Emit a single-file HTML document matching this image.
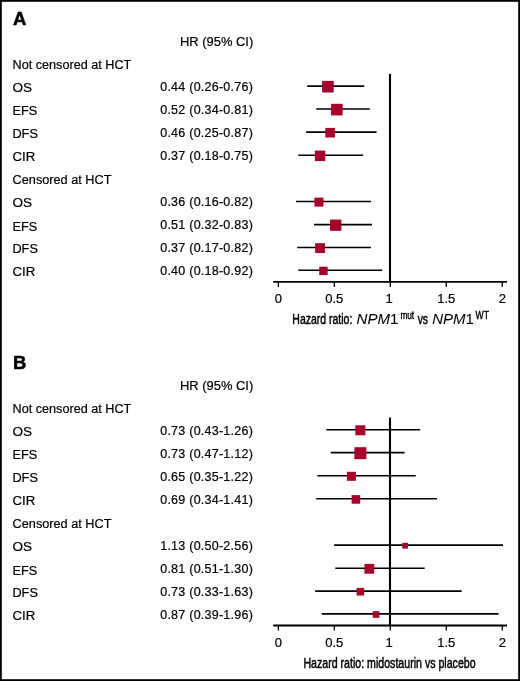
<!DOCTYPE html>
<html><head><meta charset="utf-8"><style>
html,body{margin:0;padding:0;background:#fff;}
svg{display:block;will-change:transform;}
</style></head><body>
<svg width="520" height="681" viewBox="0 0 520 681" font-family='"Liberation Sans", sans-serif' font-size="12.5" fill="#000" stroke="#000" stroke-width="0.2">
<rect x="0" y="0" width="520" height="681" fill="#fff" stroke="none"/>
<text x="12.9" y="25.0" font-size="18.5" font-weight="bold" stroke="#000" stroke-width="0.5">A</text>
<text x="180" y="46.25" textLength="73.2" lengthAdjust="spacingAndGlyphs">HR (95% CI)</text>
<text x="12.5" y="68.8" textLength="118.8" lengthAdjust="spacingAndGlyphs">Not censored at HCT</text>
<text x="12.6" y="184.1" textLength="98.8" lengthAdjust="spacingAndGlyphs">Censored at HCT</text>
<text x="12.4" y="92.00" textLength="19.6" lengthAdjust="spacingAndGlyphs">OS</text>
<text x="160.2" y="90.60" textLength="92.6" lengthAdjust="spacing">0.44 (0.26-0.76)</text>
<line x1="307.26" y1="86.10" x2="364.23" y2="86.10" stroke="#000" stroke-width="1.6"/>
<rect x="322.11" y="80.90" width="11.6" height="11.6" fill="#a6002f" stroke="none"/>
<text x="12.4" y="114.90" textLength="24.8" lengthAdjust="spacingAndGlyphs">EFS</text>
<text x="160.2" y="113.50" textLength="92.6" lengthAdjust="spacing">0.52 (0.34-0.81)</text>
<line x1="316.21" y1="109.00" x2="369.83" y2="109.00" stroke="#000" stroke-width="1.6"/>
<rect x="331.06" y="103.80" width="11.6" height="11.6" fill="#a6002f" stroke="none"/>
<text x="12.4" y="138.00" textLength="25.5" lengthAdjust="spacingAndGlyphs">DFS</text>
<text x="160.2" y="136.60" textLength="92.6" lengthAdjust="spacing">0.46 (0.25-0.87)</text>
<line x1="306.14" y1="132.10" x2="376.55" y2="132.10" stroke="#000" stroke-width="1.6"/>
<rect x="325.35" y="127.90" width="9.6" height="9.6" fill="#a6002f" stroke="none"/>
<text x="12.4" y="161.10" textLength="22.8" lengthAdjust="spacingAndGlyphs">CIR</text>
<text x="160.2" y="159.70" textLength="92.6" lengthAdjust="spacing">0.37 (0.18-0.75)</text>
<line x1="298.30" y1="155.20" x2="363.11" y2="155.20" stroke="#000" stroke-width="1.6"/>
<rect x="314.87" y="150.60" width="10.4" height="10.4" fill="#a6002f" stroke="none"/>
<text x="12.4" y="207.40" textLength="19.6" lengthAdjust="spacingAndGlyphs">OS</text>
<text x="160.2" y="206.00" textLength="92.6" lengthAdjust="spacing">0.36 (0.16-0.82)</text>
<line x1="296.06" y1="201.50" x2="370.95" y2="201.50" stroke="#000" stroke-width="1.6"/>
<rect x="314.45" y="197.60" width="9.0" height="9.0" fill="#a6002f" stroke="none"/>
<text x="12.4" y="230.50" textLength="24.8" lengthAdjust="spacingAndGlyphs">EFS</text>
<text x="160.2" y="229.10" textLength="92.6" lengthAdjust="spacing">0.51 (0.32-0.83)</text>
<line x1="313.97" y1="224.60" x2="372.07" y2="224.60" stroke="#000" stroke-width="1.6"/>
<rect x="330.09" y="219.55" width="11.3" height="11.3" fill="#a6002f" stroke="none"/>
<text x="12.4" y="253.40" textLength="25.5" lengthAdjust="spacingAndGlyphs">DFS</text>
<text x="160.2" y="252.00" textLength="92.6" lengthAdjust="spacing">0.37 (0.17-0.82)</text>
<line x1="297.18" y1="247.50" x2="370.95" y2="247.50" stroke="#000" stroke-width="1.6"/>
<rect x="315.17" y="243.20" width="9.8" height="9.8" fill="#a6002f" stroke="none"/>
<text x="12.4" y="276.20" textLength="22.8" lengthAdjust="spacingAndGlyphs">CIR</text>
<text x="160.2" y="274.80" textLength="92.6" lengthAdjust="spacing">0.40 (0.18-0.92)</text>
<line x1="298.30" y1="270.30" x2="382.14" y2="270.30" stroke="#000" stroke-width="1.6"/>
<rect x="319.23" y="266.70" width="8.4" height="8.4" fill="#a6002f" stroke="none"/>
<line x1="390.0" y1="73.9" x2="390.0" y2="282" stroke="#000" stroke-width="2.1"/>
<line x1="273.2" y1="281.9" x2="507" y2="281.9" stroke="#000" stroke-width="1.8"/>
<line x1="278.35" y1="281.9" x2="278.35" y2="286.9" stroke="#000" stroke-width="1.3"/>
<text x="278.35" y="302.7" text-anchor="middle" font-size="13">0</text>
<line x1="334.33" y1="281.9" x2="334.33" y2="286.9" stroke="#000" stroke-width="1.3"/>
<text x="334.33" y="302.7" text-anchor="middle" font-size="13">0.5</text>
<line x1="390.30" y1="281.9" x2="390.30" y2="286.9" stroke="#000" stroke-width="1.3"/>
<text x="389.10" y="302.7" text-anchor="middle" font-size="13">1</text>
<line x1="446.28" y1="281.9" x2="446.28" y2="286.9" stroke="#000" stroke-width="1.3"/>
<text x="446.28" y="302.7" text-anchor="middle" font-size="13">1.5</text>
<line x1="502.25" y1="281.9" x2="502.25" y2="286.9" stroke="#000" stroke-width="1.3"/>
<text x="502.25" y="302.7" text-anchor="middle" font-size="13">2</text>
<g transform="translate(0,0)">
<text transform="translate(292.3,324.1) scale(0.70,1)" font-size="15" stroke="#000" stroke-width="0.5">Hazard ratio:</text>
<text x="356.6" y="324.0" font-size="15" letter-spacing="0" stroke-width="0.05"><tspan font-style="italic">NPM</tspan>1</text>
<text transform="translate(400.4,318.5) scale(0.76,1)" font-size="10.8" stroke="#000" stroke-width="0.4">mut</text>
<text transform="translate(417.7,324.1) scale(0.69,1)" font-size="15" stroke="#000" stroke-width="0.5">vs</text>
<text x="432.2" y="324.0" font-size="15" letter-spacing="0" stroke-width="0.05"><tspan font-style="italic">NPM</tspan>1</text>
<text transform="translate(475.6,318.5) scale(0.80,1)" font-size="10.8" stroke="#000" stroke-width="0.4">WT</text>
</g>
<text x="13.1" y="369.0" font-size="18.5" font-weight="bold" stroke="#000" stroke-width="0.5">B</text>
<text x="180" y="390.25" textLength="73.2" lengthAdjust="spacingAndGlyphs">HR (95% CI)</text>
<text x="12.5" y="412.8" textLength="118.8" lengthAdjust="spacingAndGlyphs">Not censored at HCT</text>
<text x="12.6" y="528.1" textLength="98.8" lengthAdjust="spacingAndGlyphs">Censored at HCT</text>
<text x="12.4" y="436.00" textLength="19.6" lengthAdjust="spacingAndGlyphs">OS</text>
<text x="160.2" y="434.60" textLength="92.6" lengthAdjust="spacing">0.73 (0.43-1.26)</text>
<line x1="326.29" y1="429.70" x2="420.21" y2="429.70" stroke="#000" stroke-width="1.6"/>
<rect x="355.37" y="425.30" width="10.0" height="10.0" fill="#a6002f" stroke="none"/>
<text x="12.4" y="458.90" textLength="24.8" lengthAdjust="spacingAndGlyphs">EFS</text>
<text x="160.2" y="457.50" textLength="92.6" lengthAdjust="spacing">0.73 (0.47-1.12)</text>
<line x1="330.77" y1="452.60" x2="404.53" y2="452.60" stroke="#000" stroke-width="1.6"/>
<rect x="354.37" y="447.20" width="12.0" height="12.0" fill="#a6002f" stroke="none"/>
<text x="12.4" y="482.00" textLength="25.5" lengthAdjust="spacingAndGlyphs">DFS</text>
<text x="160.2" y="480.60" textLength="92.6" lengthAdjust="spacing">0.65 (0.35-1.22)</text>
<line x1="317.33" y1="475.70" x2="415.73" y2="475.70" stroke="#000" stroke-width="1.6"/>
<rect x="346.92" y="471.80" width="9.0" height="9.0" fill="#a6002f" stroke="none"/>
<text x="12.4" y="505.10" textLength="22.8" lengthAdjust="spacingAndGlyphs">CIR</text>
<text x="160.2" y="503.70" textLength="92.6" lengthAdjust="spacing">0.69 (0.34-1.41)</text>
<line x1="316.21" y1="498.80" x2="437.00" y2="498.80" stroke="#000" stroke-width="1.6"/>
<rect x="351.60" y="495.10" width="8.6" height="8.6" fill="#a6002f" stroke="none"/>
<text x="12.4" y="551.40" textLength="19.6" lengthAdjust="spacingAndGlyphs">OS</text>
<text x="160.2" y="550.00" textLength="92.6" lengthAdjust="spacing">1.13 (0.50-2.56)</text>
<line x1="334.13" y1="545.10" x2="503.00" y2="545.10" stroke="#000" stroke-width="1.6"/>
<rect x="402.25" y="542.80" width="5.8" height="5.8" fill="#a6002f" stroke="none"/>
<text x="12.4" y="574.50" textLength="24.8" lengthAdjust="spacingAndGlyphs">EFS</text>
<text x="160.2" y="573.10" textLength="92.6" lengthAdjust="spacing">0.81 (0.51-1.30)</text>
<line x1="335.24" y1="568.20" x2="424.69" y2="568.20" stroke="#000" stroke-width="1.6"/>
<rect x="364.43" y="563.90" width="9.8" height="9.8" fill="#a6002f" stroke="none"/>
<text x="12.4" y="597.40" textLength="25.5" lengthAdjust="spacingAndGlyphs">DFS</text>
<text x="160.2" y="596.00" textLength="92.6" lengthAdjust="spacing">0.73 (0.33-1.63)</text>
<line x1="315.09" y1="591.10" x2="461.63" y2="591.10" stroke="#000" stroke-width="1.6"/>
<rect x="356.57" y="587.90" width="7.6" height="7.6" fill="#a6002f" stroke="none"/>
<text x="12.4" y="620.20" textLength="22.8" lengthAdjust="spacingAndGlyphs">CIR</text>
<text x="160.2" y="618.80" textLength="92.6" lengthAdjust="spacing">0.87 (0.39-1.96)</text>
<line x1="321.81" y1="613.90" x2="498.57" y2="613.90" stroke="#000" stroke-width="1.6"/>
<rect x="372.70" y="611.15" width="6.7" height="6.7" fill="#a6002f" stroke="none"/>
<line x1="390.0" y1="417.5" x2="390.0" y2="625.6" stroke="#000" stroke-width="2.1"/>
<line x1="273.2" y1="625.5" x2="507" y2="625.5" stroke="#000" stroke-width="1.8"/>
<line x1="278.35" y1="625.5" x2="278.35" y2="630.5" stroke="#000" stroke-width="1.3"/>
<text x="278.35" y="646.7" text-anchor="middle" font-size="13">0</text>
<line x1="334.33" y1="625.5" x2="334.33" y2="630.5" stroke="#000" stroke-width="1.3"/>
<text x="334.33" y="646.7" text-anchor="middle" font-size="13">0.5</text>
<line x1="390.30" y1="625.5" x2="390.30" y2="630.5" stroke="#000" stroke-width="1.3"/>
<text x="389.10" y="646.7" text-anchor="middle" font-size="13">1</text>
<line x1="446.28" y1="625.5" x2="446.28" y2="630.5" stroke="#000" stroke-width="1.3"/>
<text x="446.28" y="646.7" text-anchor="middle" font-size="13">1.5</text>
<line x1="502.25" y1="625.5" x2="502.25" y2="630.5" stroke="#000" stroke-width="1.3"/>
<text x="502.25" y="646.7" text-anchor="middle" font-size="13">2</text>
<g transform="translate(0,344)"><text transform="translate(303.4,323.7) scale(0.708,1)" font-size="15" stroke="#000" stroke-width="0.5">Hazard ratio: midostaurin vs placebo</text></g>
<rect x="0.9" y="0.9" width="518.2" height="679.2" fill="none" stroke="#000" stroke-width="1.8"/>
</svg>
</body></html>
